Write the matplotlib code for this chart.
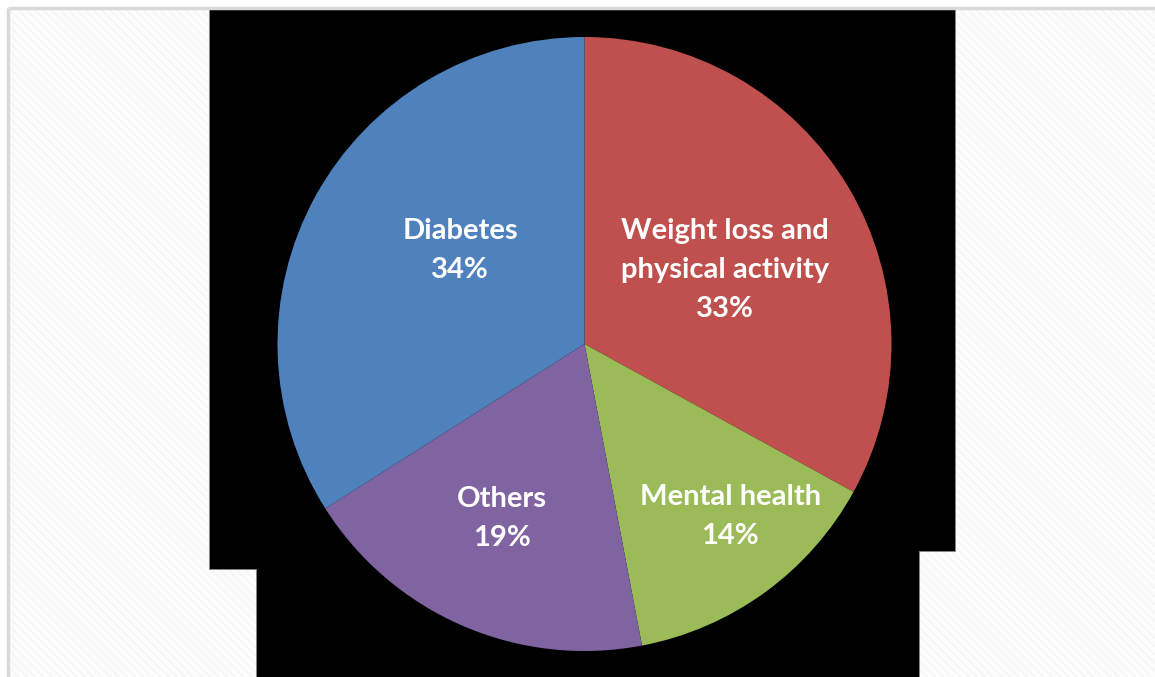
import matplotlib
matplotlib.use("Agg")
import matplotlib.pyplot as plt
from matplotlib.patches import Rectangle, Polygon

# data
categories = ["Weight loss and\nphysical activity", "Mental health", "Others", "Diabetes"]
shares = [33, 14, 19, 34]
colors = ["#C0504D", "#9BBB59", "#8064A2", "#4F81BD"]

# label centres (axes data units, pie radius = 1)
label_pos = [(0.458, 0.24), (0.475, -0.562), (-0.27, -0.57), (-0.405, 0.305)]

W, H = 1155, 677
fig = plt.figure(figsize=(W / 100, H / 100), dpi=100)

# page background: light hatched pattern with a grey frame on left/top
bg = fig.add_axes([0, 0, 1, 1])
bg.set_xlim(0, W)
bg.set_ylim(H, 0)
bg.axis("off")
bg.add_patch(Rectangle((0, 0), W, H, facecolor="white", edgecolor="none"))
bg.add_patch(Rectangle((9, 9), W, H, facecolor="#fcfcfc", edgecolor="#f4f4f4",
                       hatch="\\\\\\\\", linewidth=0))
bg.plot([8, 8], [8, H], color="#d9d9d9", lw=2.5, solid_capstyle="butt")
bg.plot([8, W], [8, 8], color="#d9d9d9", lw=2.5, solid_capstyle="butt")

# black backdrop behind the chart
backdrop = [(209, 9), (955, 9), (955, 551), (919, 551), (919, H),
            (256, H), (256, 569), (209, 569)]
bg.add_patch(Polygon(backdrop, closed=True, facecolor="black", edgecolor="#888888", lw=0.6))

# pie
cx, cy, r = 584.5, 344, 307
ax = fig.add_axes([(cx - r) / W, 1 - (cy + r) / H, 2 * r / W, 2 * r / H])
wedges, _ = ax.pie(shares, colors=colors, startangle=90, counterclock=False,
                   wedgeprops=dict(linewidth=0))
ax.set_xlim(-1, 1)
ax.set_ylim(-1, 1)
ax.set_aspect("equal")

for name, val, (x, y) in zip(categories, shares, label_pos):
    ax.text(x, y, f"{name}\n{val}%", ha="center", va="center", color="white",
            fontsize=21, fontweight="bold", family=["Lato", "DejaVu Sans"],
            linespacing=1.62)

fig.savefig("out.png", dpi=100)
